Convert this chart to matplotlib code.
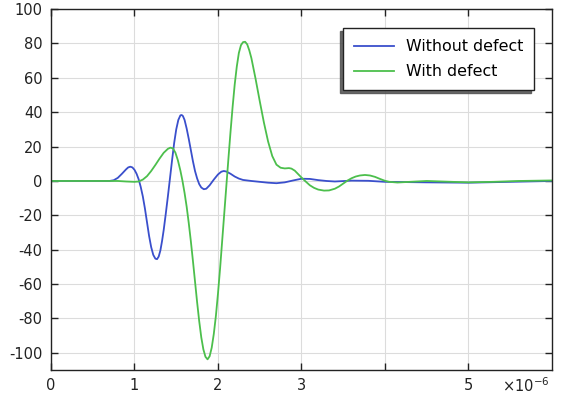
import matplotlib
matplotlib.use("Agg")
import matplotlib.pyplot as plt

plt.rcParams["axes.unicode_minus"] = False

# time in microseconds (axis shown with x10^-6 multiplier)
t_without = [0, 0.5, 0.7, 0.75, 0.8, 0.85, 0.9, 0.925, 0.95, 0.975, 1.0, 1.025, 1.05, 1.075,
             1.1, 1.125, 1.15, 1.175, 1.2, 1.225, 1.25, 1.27, 1.29, 1.31, 1.33, 1.35, 1.375,
             1.4, 1.425, 1.45, 1.475, 1.5, 1.525, 1.55, 1.565, 1.58, 1.6, 1.625, 1.65, 1.675,
             1.7, 1.725, 1.75, 1.775, 1.8, 1.83, 1.86, 1.9, 1.95, 2.0, 2.04, 2.07, 2.1, 2.15,
             2.2, 2.25, 2.3, 2.4, 2.5, 2.6, 2.7, 2.8, 2.9, 3.0, 3.1, 3.2, 3.3, 3.4, 3.6, 3.8,
             4.0, 4.5, 5.0, 5.5, 6.0]
v_without = [0, 0, 0, 0.4, 1.8, 4.2, 6.8, 7.9, 8.3, 7.9, 6.5, 4.2, 1.0, -3.5,
             -9, -16, -24, -32, -38.5, -43, -45.2, -45.5, -44, -40.5, -35, -28.5, -19,
             -9, 1.5, 12, 22, 30, 35.5, 38.2, 38.4, 37.8, 35.5, 30.5, 24.5, 18,
             11.5, 5.8, 1.5, -1.8, -3.8, -4.8, -4.5, -2.5, 0.8, 3.8, 5.4, 5.8, 5.5, 4.2,
             2.6, 1.4, 0.6, 0, -0.5, -1, -1.3, -0.8, 0.3, 1.3, 1.2, 0.5, 0, -0.3, 0.2, 0.1,
             -0.5, -0.8, -1, -0.5, 0]

t_with = [0, 0.8, 0.9, 1.0, 1.05, 1.1, 1.15, 1.2, 1.25, 1.3, 1.35, 1.4, 1.43, 1.46, 1.49,
          1.52, 1.55, 1.575, 1.6, 1.625, 1.65, 1.675, 1.7, 1.725, 1.75, 1.775, 1.8, 1.825,
          1.85, 1.875, 1.9, 1.925, 1.95, 1.975, 2.0, 2.025, 2.05, 2.075, 2.1, 2.125, 2.15,
          2.175, 2.2, 2.225, 2.25, 2.275, 2.3, 2.325, 2.35, 2.375, 2.4, 2.45, 2.5, 2.55,
          2.6, 2.65, 2.7, 2.75, 2.8, 2.85, 2.88, 2.92, 2.96, 3.0, 3.05, 3.1, 3.15, 3.2,
          3.27, 3.33, 3.4, 3.45, 3.5, 3.55, 3.6, 3.65, 3.7, 3.76, 3.82, 3.88, 3.94, 4.0,
          4.05, 4.15, 4.3, 4.5, 4.8, 5.0, 5.3, 5.6, 6.0]
v_with = [0, 0, -0.3, -0.5, -0.3, 0.8, 2.8, 5.8, 9.3, 13, 16.4, 18.7, 19.4, 19.0, 16.5,
          12, 6, 0, -7, -15, -24.5, -35, -46.5, -58.5, -70.5, -81.5, -91, -98,
          -102.3, -103.8, -102, -97, -89, -78.5, -65.5, -51, -35, -19, -3, 13, 28.5,
          43, 56, 66.5, 74.5, 79, 80.8, 81, 79.5, 76, 71.5, 59.5, 46.5, 34,
          23, 14.5, 9.5, 7.7, 7.3, 7.5, 7.2, 6, 4, 2, -0.3, -2.5, -4, -5,
          -5.6, -5.5, -4.5, -3.2, -1.5, 0.2, 1.6, 2.6, 3.2, 3.5, 3.2, 2.4, 1.2, 0.1,
          -0.5, -0.9, -0.5, 0, -0.5, -0.8, -0.5, 0, 0.3]

labels = ["Without defect", "With defect"]
xticks = [0, 1, 2, 3, 4, 5]
xticklabels = ["0", "1", "2", "3", "", "5"]
yticks = [-100, -80, -60, -40, -20, 0, 20, 40, 60, 80, 100]

fig = plt.figure(figsize=(5.62, 3.97), dpi=100)
ax = fig.add_axes([0.0907, 0.068, 0.8915, 0.909])

ax.plot(t_without, v_without, color="#3a4fcc", lw=1.3, label=labels[0])
ax.plot(t_with, v_with, color="#4cbf4c", lw=1.3, label=labels[1])

ax.set_xlim(0, 6)
ax.set_ylim(-110, 100)
ax.set_xticks(xticks)
ax.set_xticklabels(xticklabels)
ax.set_yticks(yticks)
ax.grid(True, color="#dcdcdc", lw=0.8)
ax.set_axisbelow(True)
ax.tick_params(direction="in", length=5, width=1, top=True, right=True,
               labelsize=10.5, colors="#222222", pad=6)
for s in ax.spines.values():
    s.set_color("#222222")
    s.set_linewidth(1.0)

ax.annotate("×10$^{-6}$", xy=(1, 0), xycoords="axes fraction",
            xytext=(-1.5, -16), textcoords="offset points",
            ha="right", va="baseline", fontsize=10.5, color="#222222")

leg = ax.legend(loc="upper right", bbox_to_anchor=(0.964, 0.947), fontsize=11.4,
                frameon=True, fancybox=False,
                shadow={"ox": -2.2, "oy": -2.2, "facecolor": "#505050",
                        "edgecolor": "#505050", "alpha": 0.85},
                framealpha=1, edgecolor="#222222", handlelength=2.5, borderpad=0.7,
                labelspacing=0.62, handletextpad=0.75, borderaxespad=0)
leg.get_frame().set_linewidth(1.0)

fig.savefig("out.png", dpi=100)
